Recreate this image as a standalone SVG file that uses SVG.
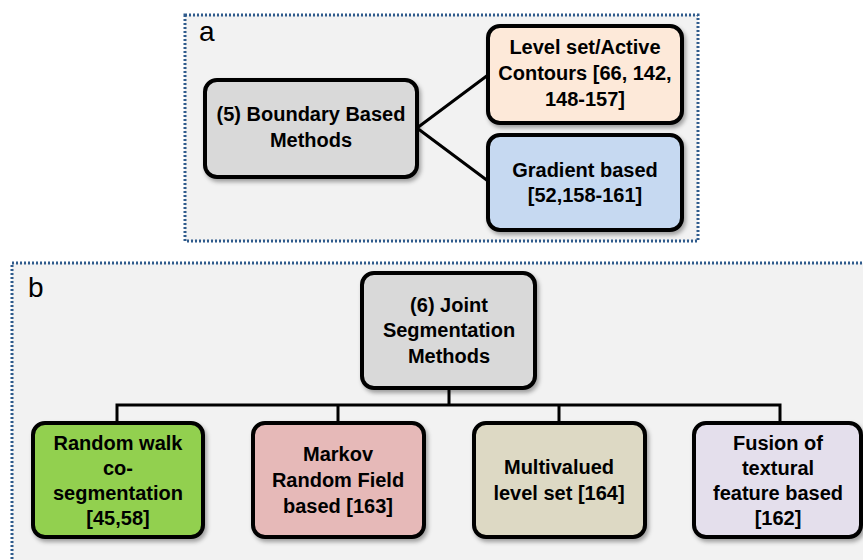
<svg xmlns="http://www.w3.org/2000/svg" width="863" height="560" viewBox="0 0 863 560">
<defs>
<filter id="sh" x="-10%" y="-10%" width="130%" height="130%">
<feDropShadow dx="2" dy="3" stdDeviation="2" flood-color="#000" flood-opacity="0.35"/>
</filter>
<style>
.panel{fill:#f2f2f2;stroke:#2f5b8c;stroke-width:3;stroke-dasharray:2 2}
.box{stroke:#000;stroke-width:4;filter:url(#sh)}
.t{font-family:"Liberation Sans",Arial,sans-serif;font-weight:bold;font-size:20px;fill:#000;text-anchor:middle}
.lbl{font-family:"Liberation Sans",Arial,sans-serif;font-size:28px;fill:#000}
.con{stroke:#000;stroke-width:3;fill:none}
</style>
</defs>
<rect width="863" height="560" fill="#fff"/>
<rect class="panel" x="185" y="15" width="513" height="226"/>
<rect class="panel" x="12" y="263" width="860" height="310"/>
<text class="lbl" x="199" y="41">a</text>
<text class="lbl" x="28" y="297">b</text>
<g id="connectors">
<path class="con" d="M417 128 L488 75 M417 128 L488 181"/>
<path class="con" d="M449 388 V405 M117 423 V405 H780 V423 M338 405 V423 M559 405 V423"/>
</g>
<g id="boundary">
<rect class="box" x="205" y="80" width="212" height="97" rx="12" fill="#d9d9d9"/>
<text class="t" x="311" y="121">(5) Boundary Based</text>
<text class="t" x="311" y="147">Methods</text>
</g>
<g id="levelset">
<rect class="box" x="488" y="26" width="194" height="97" rx="12" fill="#fde9d9"/>
<text class="t" x="585" y="54">Level set/Active</text>
<text class="t" x="585" y="80">Contours [66, 142,</text>
<text class="t" x="585" y="106">148-157]</text>
</g>
<g id="gradient">
<rect class="box" x="488" y="135" width="194" height="95" rx="12" fill="#c6d9f1"/>
<text class="t" x="585" y="177">Gradient based</text>
<text class="t" x="585" y="202">[52,158-161]</text>
</g>
<g id="joint">
<rect class="box" x="362" y="273" width="173" height="115" rx="12" fill="#d9d9d9"/>
<text class="t" x="449" y="312">(6) Joint</text>
<text class="t" x="449" y="337">Segmentation</text>
<text class="t" x="449" y="363">Methods</text>
</g>
<g id="randomwalk">
<rect class="box" x="33" y="423" width="170" height="114" rx="12" fill="#92d050"/>
<text class="t" x="118" y="450">Random walk</text>
<text class="t" x="118" y="475">co-</text>
<text class="t" x="118" y="500">segmentation</text>
<text class="t" x="118" y="525">[45,58]</text>
</g>
<g id="markov">
<rect class="box" x="253" y="423" width="171" height="114" rx="12" fill="#e6b9b8"/>
<text class="t" x="338" y="461">Markov</text>
<text class="t" x="338" y="487">Random Field</text>
<text class="t" x="338" y="513">based [163]</text>
</g>
<g id="multivalued">
<rect class="box" x="474" y="423" width="171" height="114" rx="12" fill="#ddd9c4"/>
<text class="t" x="559" y="474">Multivalued</text>
<text class="t" x="559" y="500">level set [164]</text>
</g>
<g id="fusion">
<rect class="box" x="694" y="423" width="167" height="114" rx="12" fill="#e4dfec"/>
<text class="t" x="778" y="450">Fusion of</text>
<text class="t" x="778" y="475">textural</text>
<text class="t" x="778" y="500">feature based</text>
<text class="t" x="778" y="525">[162]</text>
</g>
</svg>
